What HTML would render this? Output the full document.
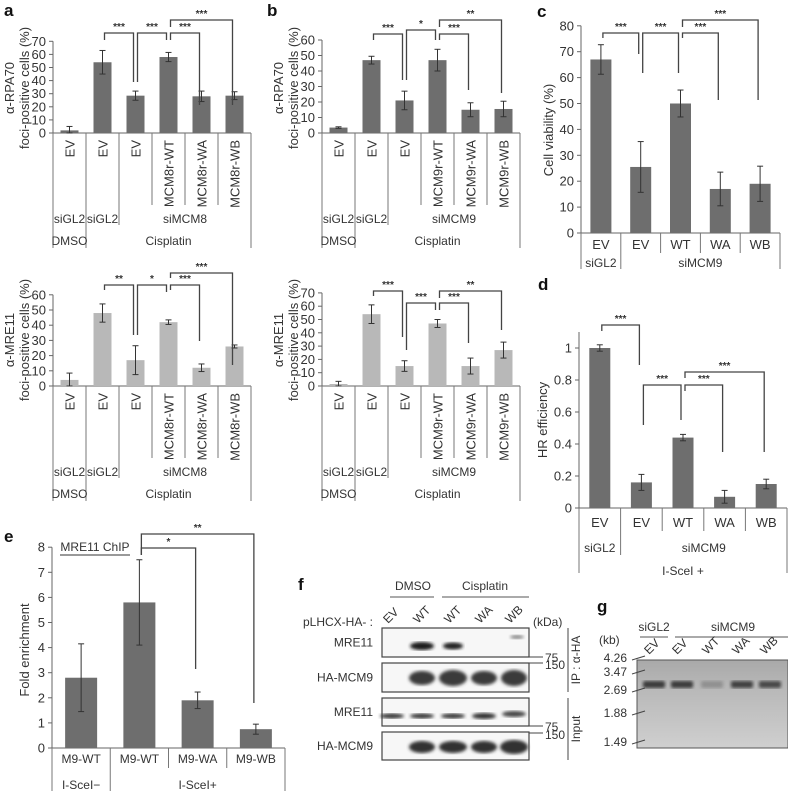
<!DOCTYPE html>
<html><head><meta charset="utf-8">
<style>
html,body{margin:0;padding:0;background:#fff;}
svg{display:block;font-family:"Liberation Sans",sans-serif;}
</style></head>
<body>
<svg id="fig" width="788" height="791" viewBox="0 0 788 791" xmlns="http://www.w3.org/2000/svg">
<defs>
<linearGradient id="gelgrad" x1="0" y1="0" x2="0" y2="1">
<stop offset="0" stop-color="#a9a9a9"/><stop offset="0.35" stop-color="#b9b9b9"/><stop offset="1" stop-color="#cfcfcf"/>
</linearGradient>
<filter id="blur1"><feGaussianBlur stdDeviation="1.6"/></filter>
</defs>
<g id="root"></g>
</svg>
<script>
// ---- Panel a (top): RPA70, siMCM8 ----
const aTopVals = [2, 54, 28.5, 58, 28, 28.5];
const aTopErrs = [3, 9, 3.5, 3.5, 4, 3];
const aTopTicks = [0,10,20,30,40,50,60,70];
const aCats = ["EV","EV","EV","MCM8r-WT","MCM8r-WA","MCM8r-WB"];
// ---- Panel a (bottom): MRE11, siMCM8 ----
const aBotVals = [4, 48, 17, 42, 12, 26];
const aBotErrs = [4.5, 6, 9.5, 1.5, 2.5, 1];
const aBotTicks = [0,10,20,30,40,50,60];
// ---- Panel b (top): RPA70, siMCM9 ----
const bTopVals = [3.5, 47, 21, 47, 15, 15.5];
const bTopErrs = [0.5, 2.5, 6, 7, 4.5, 5];
const bTopTicks = [0,10,20,30,40,50,60];
const bCats = ["EV","EV","EV","MCM9r-WT","MCM9r-WA","MCM9r-WB"];
// ---- Panel b (bottom): MRE11, siMCM9 ----
const bBotVals = [1.5, 54, 15, 47, 15, 27];
const bBotErrs = [2, 7, 4, 3, 6, 6];
const bBotTicks = [0,10,20,30,40,50,60,70];
// ---- Panel c: cell viability ----
const cVals = [67, 25.5, 50, 17, 19];
const cErrs = [5.7, 9.8, 5.2, 6.5, 6.8];
const cTicks = [0,10,20,30,40,50,60,70,80];
const cdCats = ["EV","EV","WT","WA","WB"];
// ---- Panel d: HR efficiency ----
const dVals = [1.0, 0.16, 0.44, 0.07, 0.15];
const dErrs = [0.02, 0.05, 0.02, 0.04, 0.03];
const dTicks = [0,0.2,0.4,0.6,0.8,1];
// ---- Panel e: MRE11 ChIP ----
const eVals = [2.8, 5.8, 1.9, 0.75];
const eErrs = [1.35, 1.7, 0.33, 0.2];
const eTicks = [0,1,2,3,4,5,6,7,8];
const eCats = ["M9-WT","M9-WT","M9-WA","M9-WB"];

const NS = "http://www.w3.org/2000/svg";
const root = document.getElementById('root');
function mk(tag, attrs, parent, text){
  const e = document.createElementNS(NS, tag);
  for (const k in attrs) e.setAttribute(k, attrs[k]);
  if (text !== undefined) e.textContent = text;
  (parent || root).appendChild(e);
  return e;
}
function line(p, x1,y1,x2,y2,w,c){ return mk('line',{x1:x1,y1:y1,x2:x2,y2:y2,stroke:c||'#555','stroke-width':w||1},p); }
function txt(p, x,y,s,size,anchor,extra){
  const a = Object.assign({x:x,y:y,'font-size':size||12,'text-anchor':anchor||'middle',fill:'#333'}, extra||{});
  return mk('text',a,p,s);
}

function barChart(name, o, vals, errs, ticks){
  const g = mk('g',{});
  
  
  const n = vals.length;
  const slot = (o.x1 - o.x0) / n;
  const yOf = v => o.y0 - v * o.k;
  const cx = i => o.x0 + slot * (i + 0.5);
  const ytop = yOf(o.axisMax !== undefined ? o.axisMax : ticks[ticks.length-1]);
  const ax = line(g, o.x0, o.y0, o.x0, ytop, 1, '#666');
  
  
  const xa = line(g, o.x0, o.y0, o.x1, o.y0, 1, '#666');
  
  
  ticks.forEach(t => {
    line(g, o.x0-4, yOf(t), o.x0, yOf(t), 1, '#666');
    const tl = txt(g, o.x0-7, yOf(t)+4.5, String(t), o.fs||13, 'end');
    
    
  });
  vals.forEach((v,i) => {
    const b = mk('rect',{x:cx(i)-o.bw/2, y:yOf(v), width:o.bw, height:v*o.k, fill:o.color},g);
    
    
    const e1 = yOf(v+errs[i]), e2 = yOf(Math.max(0, v-errs[i]));
    const eb = mk('g',{},g);
    
    
    line(eb, cx(i), e1, cx(i), e2, 1, '#333');
    line(eb, cx(i)-3, e1, cx(i)+3, e1, 1, '#333');
    line(eb, cx(i)-3, e2, cx(i)+3, e2, 1, '#333');
  });
  (o.brackets||[]).forEach(br => {
    const [i,j,lab,top,le,re] = br;
    const bg = mk('g',{},g);
    
    
    const xi = cx(i)+2, xj = cx(j)-2;
    mk('polyline',{points:`${xi},${le} ${xi},${top} ${xj},${top} ${xj},${re}`,fill:'none',stroke:'#444','stroke-width':1.3},bg);
    txt(bg, (xi+xj)/2, top-3, lab, 10, 'middle', {'font-weight':'bold'});
  });
  return {g, cx, slot, yOf};
}

function ytitle(lines, x, y, size){
  const t = mk('text',{transform:`translate(${x},${y}) rotate(-90)`,'font-size':size||13,'text-anchor':'middle',fill:'#333'});
  
  
  lines.forEach((s,i)=>{ mk('tspan',{x:0,dy:i===0?0:15},t,s); });
  return t;
}
function letter(s,x,y){
  const t = txt(root,x,y,s,17,'start',{'font-weight':'bold',fill:'#111'});
  
  
}

function abTable(ch, o, cats, siName){
  const g = ch.g, b = o.y0, e = i => o.x0 + ch.slot*i;
  cats.forEach((c,i)=>{
    const t = mk('text',{transform:`translate(${ch.cx(i)+5},${b+7}) rotate(-90)`,'font-size':13,'text-anchor':'end',fill:'#333'},g,c);
    
    
  });
  [3,4,5].forEach(i=>line(g,e(i),b,e(i),b+72,1,'#777'));
  line(g,e(2),b,e(2),b+92,1,'#777');
  [0,1,6].forEach(i=>line(g,e(i),b,e(i),b+115,1,'#777'));
  txt(g, ch.cx(0), b+90, 'siGL2', 12);
  txt(g, ch.cx(1), b+90, 'siGL2', 12);
  txt(g, (e(2)+e(6))/2, b+90, siName, 12);
  txt(g, ch.cx(0), b+112, 'DMSO', 12);
  txt(g, (e(1)+e(6))/2, b+112, 'Cisplatin', 12);
}

letter('a',4,16); letter('b',267,16); letter('c',537,17); letter('d',538,290);
letter('e',4,542); letter('f',298,590); letter('g',597,612);

const DARK = '#6e6e6e', LIGHT = '#b8b8b8';
// a top
let o = {x0:53,x1:251,y0:133,k:1.31,bw:18,color:DARK,brackets:[[1,2,'***',33,40,82],[2,3,'***',33,82,40],[3,4,'***',33,40,105],[3,5,'***',20,27,105]]};
let ch = barChart('chart-a-rpa70', o, aTopVals, aTopErrs, aTopTicks); abTable(ch,o,aCats,'siMCM8');
ytitle(['α-RPA70','foci-positive cells (%)'], 14, 88);
// a bottom
o = {x0:53,x1:251,y0:386,k:1.52,bw:18,color:LIGHT,brackets:[[1,2,'**',285,290,335],[2,3,'*',285,335,292],[3,4,'***',285,290,341],[3,5,'***',273,278,365]]};
ch = barChart('chart-a-mre11', o, aBotVals, aBotErrs, aBotTicks); abTable(ch,o,aCats,'siMCM8');
ytitle(['α-MRE11','foci-positive cells (%)'], 14, 340);
// b top
o = {x0:322,x1:520,y0:133,k:1.55,bw:18,color:DARK,brackets:[[1,2,'***',34,40,80],[2,3,'*',30,80,40],[3,4,'***',34,40,90],[3,5,'**',20,27,93]]};
ch = barChart('chart-b-rpa70', o, bTopVals, bTopErrs, bTopTicks); abTable(ch,o,bCats,'siMCM9');
ytitle(['α-RPA70','foci-positive cells (%)'], 283, 88);
// b bottom
o = {x0:322,x1:520,y0:386,k:1.33,bw:18,color:LIGHT,brackets:[[1,2,'***',291,296,337],[2,3,'***',303,350,310],[3,4,'***',303,310,343],[3,5,'**',291,298,330]]};
ch = barChart('chart-b-mre11', o, bBotVals, bBotErrs, bBotTicks); abTable(ch,o,bCats,'siMCM9');
ytitle(['α-MRE11','foci-positive cells (%)'], 283, 340);

// c
o = {x0:581,x1:780,y0:233,k:2.59,bw:21,color:DARK,fs:13,brackets:[[0,1,'***',33,38,54],[1,2,'***',33,73,73],[2,3,'***',33,38,100],[2,4,'***',20,27,100]]};
ch = barChart('chart-c-viability', o, cVals, cErrs, cTicks);
(function(){ const g=ch.g,b=o.y0,e=i=>o.x0+ch.slot*i;
  cdCats.forEach((c,i)=>{const t=txt(g,ch.cx(i),b+16,c,13);});
  [2,3,4].forEach(i=>line(g,e(i),b,e(i),b+20,1,'#777'));
  [0,1,5].forEach(i=>line(g,e(i),b,e(i),b+36,1,'#777'));
  txt(g,ch.cx(0),b+34,'siGL2',12); txt(g,(e(1)+e(5))/2,b+34,'siMCM9',12);
})();
ytitle(['Cell viability (%)'], 553, 130);

// d
o = {x0:579,x1:787,y0:508,k:160,bw:21,color:DARK,fs:13,axisMax:1.1,brackets:[[0,1,'***',325,331,365],[1,2,'***',385,425,420],[2,3,'***',385,391,452],[2,4,'***',372,378,452]]};
ch = barChart('chart-d-hr', o, dVals, dErrs, dTicks);
(function(){ const g=ch.g,b=o.y0,e=i=>o.x0+ch.slot*i;
  cdCats.forEach((c,i)=>{const t=txt(g,ch.cx(i),b+19,c,13);});
  [2,3,4].forEach(i=>line(g,e(i),b,e(i),b+23,1,'#777'));
  line(g,e(1),b,e(1),b+47,1,'#777');
  [0,5].forEach(i=>line(g,e(i),b,e(i),b+65,1,'#777'));
  txt(g,ch.cx(0),b+44,'siGL2',12); txt(g,(e(1)+e(5))/2,b+44,'siMCM9',12);
  txt(g,(e(0)+e(5))/2,b+67,'I-SceI +',12);
})();
ytitle(['HR efficiency'], 547, 420);

// e
o = {x0:52,x1:285,y0:748,k:25.1,bw:32,color:DARK,fs:13,brackets:[[1,2,'*',548,555,669],[1,3,'**',534,555,703]]};
ch = barChart('chart-e-chip', o, eVals, eErrs, eTicks);
(function(){ const g=ch.g,b=o.y0,e=i=>o.x0+ch.slot*i;
  eCats.forEach((c,i)=>{const t=txt(g,ch.cx(i),b+15,c,12);});
  [2,3].forEach(i=>line(g,e(i),b,e(i),b+20,1,'#777'));
  [0,1,4].forEach(i=>line(g,e(i),b,e(i),b+43,1,'#777'));
  txt(g,ch.cx(0),b+41,'I-SceI−',12); txt(g,(e(1)+e(4))/2,b+41,'I-SceI+',12);
  const t=txt(g,95,551,'MRE11 ChIP',12);  
  line(g,60,555,130,555,1,'#333');
})();
ytitle(['Fold enrichment'], 29, 650);

// ---- Panel f: western blot ----
(function(){
  const g = mk('g',{});
  
  
  const lanes = [392,422,453,484,514];
  const laneLab = ['EV','WT','WT','WA','WB'];
  txt(g,413,590,'DMSO',12); line(g,390,597,434,597,1,'#555');
  txt(g,485,590,'Cisplatin',12); line(g,442,597,529,597,1,'#555');
  txt(g,373,626,'pLHCX-HA- :',12,'end');
  lanes.forEach((x,i)=>{ mk('text',{transform:`translate(${x-4},${624}) rotate(-45)`,'font-size':12,'text-anchor':'start',fill:'#333'},g,laneLab[i]); });
  txt(g,533,626,'(kDa)',12,'start');
  const rows = [[628,657,'MRE11'],[663,692,'HA-MCM9'],[698,726,'MRE11'],[732,760,'HA-MCM9']];
  rows.forEach(r=>{
    const bx = mk('rect',{x:382,y:r[0],width:147,height:r[1]-r[0],fill:'#f7f7f7',stroke:'#444','stroke-width':1.2},g);
    
    
    txt(g,373,(r[0]+r[1])/2+4,r[2],12,'end');
  });
  const bands = [
    [422,646,24,4,'#1a1a1a'],[453,646,20,3.5,'#222'],[517,637,14,2,'#888'],
    [422,678,26,7,'#3a3a3a'],[453,678,28,8,'#3a3a3a'],[484,678,26,7,'#3a3a3a'],[514,678,26,8,'#3a3a3a'],
    [392,716,24,2.5,'#333'],[422,716,24,2.5,'#333'],[453,716,24,2.5,'#333'],[484,716,24,3,'#333'],[514,714,24,3,'#444'],
    [422,747,26,6,'#333'],[453,747,28,6,'#333'],[484,747,26,6,'#333'],[514,747,28,7,'#333']
  ];
  bands.forEach(b=>{ mk('ellipse',{cx:b[0],cy:b[1],rx:b[2]/2,ry:b[3],fill:b[4],filter:'url(#blur1)'},g); });
  line(g,529,657,543,657,1,'#444'); txt(g,545,662,'75',12,'start');
  line(g,529,663,543,663,1,'#444'); txt(g,545,669,'150',12,'start');
  line(g,529,726,543,726,1,'#444'); txt(g,545,731,'75',12,'start');
  line(g,529,733,543,733,1,'#444'); txt(g,545,739,'150',12,'start');
  line(g,568,628,568,692,1,'#444'); line(g,568,698,568,760,1,'#444');
  mk('text',{transform:'translate(580,660) rotate(-90)','font-size':12,'text-anchor':'middle',fill:'#333'},g,'IP : α-HA');
  mk('text',{transform:'translate(580,729) rotate(-90)','font-size':12,'text-anchor':'middle',fill:'#333'},g,'Input');
})();

// ---- Panel g: gel ----
(function(){
  const g = mk('g',{});
  
  
  txt(g,654,631,'siGL2',12); line(g,640,637,668,637,1,'#555');
  txt(g,733,631,'siMCM9',12); line(g,675,637,788,637,1,'#555');
  txt(g,599,644,'(kb)',12,'start');
  const lanes = [654,682,712,742,770];
  const laneLab = ['EV','EV','WT','WA','WB'];
  lanes.forEach((x,i)=>{ mk('text',{transform:`translate(${x-5},${655}) rotate(-45)`,'font-size':12,'text-anchor':'start',fill:'#333'},g,laneLab[i]); });
  const gel = mk('rect',{x:637,y:660,width:151,height:88,fill:'url(#gelgrad)',stroke:'#555','stroke-width':1},g);
  
  
  const bandOp = [1,1,0.3,0.95,0.9];
  lanes.forEach((x,i)=>{ mk('rect',{x:x-11,y:681,width:22,height:7,rx:2,fill:'#3a3a3a','fill-opacity':bandOp[i],filter:'url(#blur1)'},g); });
  const mk2 = [['4.26',658],['3.47',672],['2.69',690],['1.88',713],['1.49',742]];
  mk2.forEach(m=>{ txt(g,627,m[1]+4,m[0],12,'end'); line(g,632,m[1]+2,645,m[1]-2,1,'#444'); });
})();
</script>
</body></html>
